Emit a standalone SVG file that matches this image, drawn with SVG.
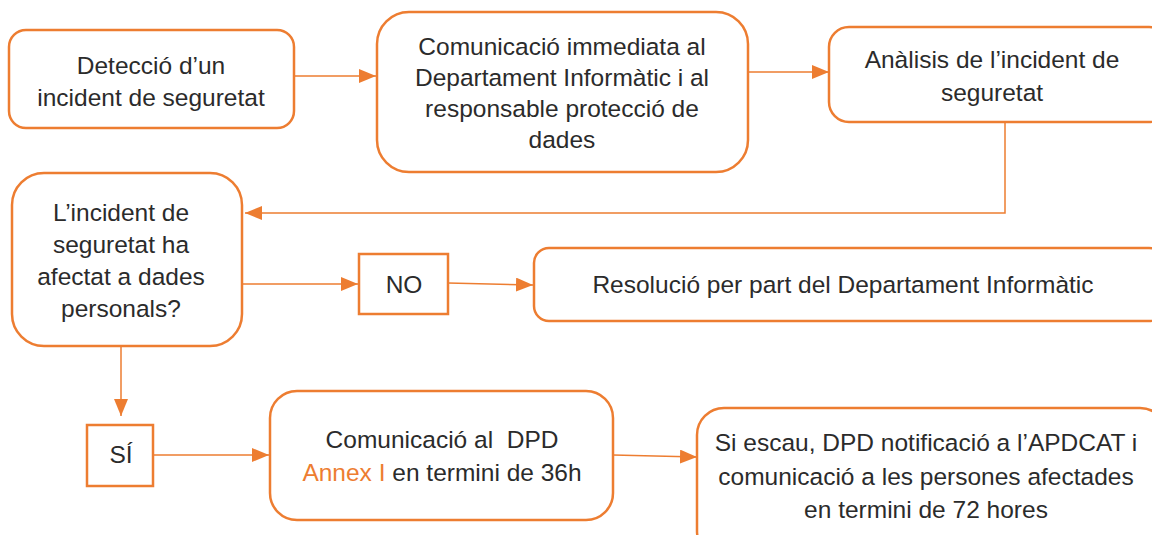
<svg xmlns="http://www.w3.org/2000/svg" width="1152" height="535" viewBox="0 0 1152 535">
<defs>
<style>
.box{fill:#fff;stroke:#ED7D31;stroke-width:2.5}
.ln{fill:none;stroke:#ED7D31;stroke-width:1.5}
.t{font-family:"Liberation Sans",Arial,sans-serif;font-size:24.5px;fill:#2b2b2b;text-anchor:middle}
.or{fill:#ED7D31}
</style>
<marker id="ah" markerUnits="userSpaceOnUse" markerWidth="18" markerHeight="14" refX="17" refY="7" orient="auto">
<path d="M0,0 L17,7 L0,14 Z" fill="#ED7D31"/>
</marker>
</defs>
<rect width="1152" height="535" fill="#fff"/>
<g id="connectors">
<line class="ln" x1="294" y1="76" x2="376" y2="76" marker-end="url(#ah)"/>
<line class="ln" x1="748" y1="72" x2="829" y2="72" marker-end="url(#ah)"/>
<polyline class="ln" points="1005,123 1005,213 245,213" marker-end="url(#ah)"/>
<line class="ln" x1="242" y1="284" x2="358" y2="284" marker-end="url(#ah)"/>
<line class="ln" x1="448" y1="283" x2="533" y2="285" marker-end="url(#ah)"/>
<line class="ln" x1="121" y1="346" x2="121" y2="416" marker-end="url(#ah)"/>
<line class="ln" x1="153" y1="455" x2="269" y2="455" marker-end="url(#ah)"/>
<line class="ln" x1="613" y1="455" x2="697" y2="457" marker-end="url(#ah)"/>
</g>
<g id="n1"><rect class="box" x="9" y="30" width="285" height="98" rx="17"/>
<text class="t" x="151" y="74">Detecció d’un</text>
<text class="t" x="151" y="106">incident de seguretat</text></g>
<g id="n2"><rect class="box" x="377" y="12" width="371" height="160" rx="32"/>
<text class="t" x="562" y="55">Comunicació immediata al</text>
<text class="t" x="562" y="86">Departament Informàtic i al</text>
<text class="t" x="562" y="117">responsable protecció de</text>
<text class="t" x="562" y="148">dades</text></g>
<g id="n3"><rect class="box" x="829" y="27" width="340" height="95" rx="20"/>
<text class="t" x="992" y="68">Anàlisis de l’incident de</text>
<text class="t" x="992" y="101">seguretat</text></g>
<g id="n4"><rect class="box" x="12" y="173" width="230" height="173" rx="32"/>
<text class="t" x="121" y="221">L’incident de</text>
<text class="t" x="121" y="253">seguretat ha</text>
<text class="t" x="121" y="285">afectat a dades</text>
<text class="t" x="121" y="317">personals?</text></g>
<g id="n5"><rect class="box" x="359" y="254" width="89" height="60"/>
<text class="t" x="404" y="293">NO</text></g>
<g id="n6"><rect class="box" x="534" y="248" width="630" height="73" rx="15"/>
<text class="t" x="843" y="293">Resolució per part del Departament Informàtic</text></g>
<g id="n7"><rect class="box" x="87" y="425" width="66" height="61"/>
<text class="t" x="121" y="463">SÍ</text></g>
<g id="n8"><rect class="box" x="270" y="391" width="343" height="129" rx="27"/>
<text class="t" x="442" y="448" xml:space="preserve">Comunicació al  DPD</text>
<text class="t" x="442" y="481"><tspan class="or">Annex I</tspan> en termini de 36h</text></g>
<g id="n9"><rect class="box" x="697" y="408" width="470" height="150" rx="27"/>
<text class="t" x="926" y="451">Si escau, DPD notificació a l’APDCAT i</text>
<text class="t" x="926" y="485">comunicació a les persones afectades</text>
<text class="t" x="926" y="518">en termini de 72 hores</text></g>
</svg>
